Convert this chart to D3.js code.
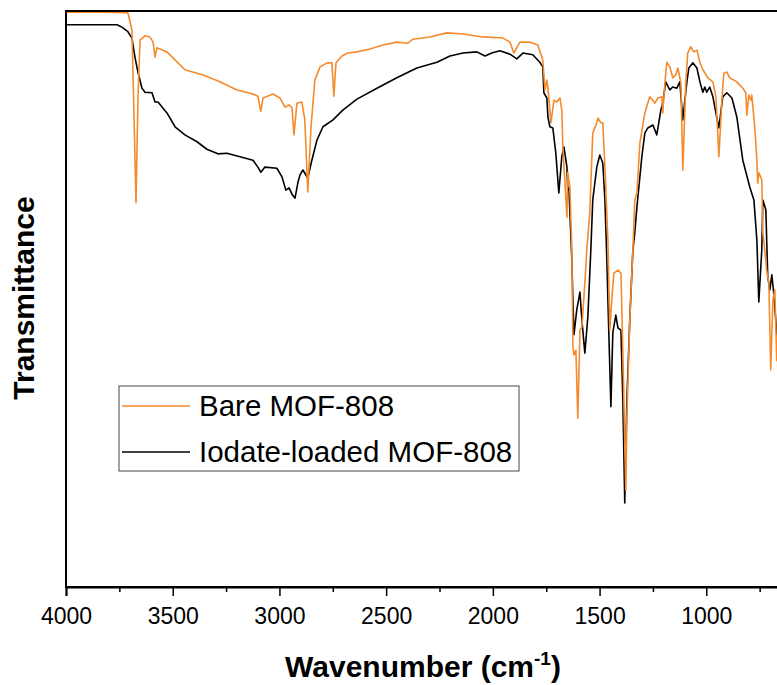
<!DOCTYPE html>
<html>
<head>
<meta charset="utf-8">
<script src="https://cdn.jsdelivr.net/npm/d3@7"></script>
<style>
  body { margin: 0; background: #fff; }
  svg { display: block; font-family: Arial, "Liberation Sans", sans-serif; }
</style>
</head>
<body>
<div id="chart"></div>
<script>
// wavenumber (cm-1) and transmittance (%, arbitrary)
const bareWn = [4000, 3841, 3710, 3691, 3681, 3672, 3663, 3653, 3630, 3607, 3592, 3583, 3574, 3527, 3443, 3358, 3279, 3199, 3124, 3101,
  3087, 3077, 3030, 2998, 2974, 2955, 2941, 2932, 2918, 2895, 2881, 2867, 2852, 2834, 2810, 2777, 2754, 2745, 2735, 2707,
  2679, 2637, 2576, 2515, 2450, 2398, 2375, 2295, 2215, 2140, 2047, 1953, 1920, 1902, 1873, 1827, 1789, 1766, 1756, 1747,
  1742, 1728, 1714, 1700, 1686, 1677, 1672, 1653, 1649, 1639, 1630, 1625, 1620, 1611, 1602, 1592, 1583, 1569, 1560, 1546,
  1532, 1513, 1508, 1494, 1485, 1475, 1461, 1452, 1443, 1433, 1414, 1400, 1391, 1377, 1372, 1358, 1344, 1335, 1325, 1311,
  1288, 1265, 1251, 1241, 1227, 1208, 1204, 1194, 1185, 1171, 1157, 1143, 1133, 1119, 1110, 1096, 1087, 1073, 1058, 1044,
  1030, 1016, 993, 969, 955, 941, 927, 918, 904, 890, 857, 829, 815, 810, 801, 791, 787, 773, 763, 759,
  754, 740, 735, 726, 717, 707, 698, 688, 679, 670, 656];
const bareT = [99.8, 99.8, 99.7, 96.7, 81.1, 66.7, 84.5, 95.0, 95.7, 95.5, 94.6, 92.0, 93.6, 92.9, 89.8, 88.9, 87.7, 86.3, 85.6, 85.2,
  82.6, 84.9, 85.6, 84.9, 83.3, 83.7, 83.2, 78.5, 84.0, 84.2, 81.1, 68.6, 79.9, 88.0, 90.3, 91.0, 91.0, 85.2, 91.0, 92.2,
  92.7, 92.9, 93.4, 94.1, 94.6, 94.4, 95.1, 95.5, 96.2, 96.0, 95.5, 95.3, 94.6, 92.7, 94.6, 94.6, 94.1, 91.5, 86.3, 88.0,
  86.6, 80.6, 84.5, 84.2, 84.9, 82.8, 76.4, 64.2, 72.0, 69.4, 58.5, 41.7, 40.3, 41.1, 29.3, 44.6, 45.1, 52.8, 58.5, 64.9,
  78.8, 80.6, 81.4, 80.6, 80.6, 72.9, 60.2, 44.6, 49.8, 54.5, 55.0, 54.5, 41.1, 16.8, 29.5, 46.9, 58.5, 67.2, 68.4, 77.1,
  82.3, 85.1, 84.5, 84.0, 84.9, 85.1, 82.3, 87.5, 91.1, 90.3, 88.4, 88.9, 90.1, 87.5, 72.4, 87.5, 92.7, 93.8, 92.9, 93.2,
  91.1, 89.8, 88.4, 87.7, 85.1, 74.7, 84.5, 89.2, 89.4, 88.4, 87.7, 86.6, 85.8, 81.9, 85.4, 84.5, 85.4, 79.9, 74.1, 70.1,
  71.9, 70.7, 61.5, 58.5, 55.0, 52.8, 37.7, 49.8, 51.6, 39.4, 38.5];

const iodateWn = [3995, 3841, 3761, 3738, 3710, 3691, 3677, 3663, 3644, 3630, 3597, 3583, 3569, 3527, 3489, 3443, 3386, 3340, 3288, 3246,
  3185, 3124, 3101, 3087, 3068, 3012, 2988, 2970, 2955, 2941, 2927, 2913, 2904, 2890, 2867, 2848, 2824, 2796, 2749, 2703,
  2637, 2543, 2450, 2356, 2262, 2201, 2140, 2075, 2037, 2005, 1967, 1920, 1888, 1859, 1813, 1780, 1766, 1761, 1747, 1742,
  1733, 1719, 1705, 1691, 1677, 1667, 1653, 1649, 1644, 1630, 1625, 1620, 1607, 1592, 1583, 1569, 1555, 1541, 1532, 1513,
  1499, 1485, 1475, 1466, 1461, 1447, 1438, 1424, 1414, 1400, 1391, 1382, 1372, 1358, 1344, 1335, 1325, 1302, 1288, 1274,
  1250, 1232, 1213, 1204, 1190, 1171, 1157, 1138, 1124, 1110, 1091, 1082, 1063, 1044, 1030, 1016, 1007, 998, 984, 969,
  955, 941, 923, 904, 880, 857, 829, 796, 777, 763, 754, 740, 735, 721, 717, 712, 702, 693, 684, 670, 656];
const iodateT = [97.6, 97.6, 97.6, 97.2, 96.4, 95.3, 92.0, 89.4, 86.6, 85.9, 85.8, 84.2, 84.2, 82.3, 79.9, 78.5, 77.3, 76.0, 75.2, 75.3,
  74.7, 74.1, 72.9, 72.0, 72.9, 72.7, 71.2, 68.9, 69.3, 68.2, 67.5, 70.3, 71.5, 72.4, 71.0, 74.1, 77.6, 79.9, 81.1, 82.8,
  84.7, 86.6, 88.4, 90.1, 91.1, 92.2, 92.7, 92.9, 92.2, 92.7, 93.1, 92.5, 91.7, 92.7, 92.4, 91.1, 90.3, 85.8, 84.9, 81.6,
  79.9, 79.7, 75.3, 68.4, 74.7, 76.4, 72.9, 68.9, 69.3, 56.8, 49.8, 43.8, 48.1, 51.2, 46.4, 40.6, 46.9, 58.5, 67.2, 72.9,
  75.0, 73.6, 67.2, 56.8, 49.8, 31.3, 44.1, 47.2, 45.0, 44.6, 32.5, 14.6, 32.5, 46.9, 58.5, 61.5, 66.0, 74.7, 78.8, 79.7,
  80.2, 78.5, 82.8, 84.0, 87.7, 86.3, 86.8, 86.6, 87.7, 81.1, 87.7, 90.1, 91.0, 90.1, 87.7, 85.9, 86.8, 85.9, 86.8, 85.1,
  82.3, 79.7, 85.1, 85.8, 84.9, 81.6, 74.1, 69.4, 67.2, 60.2, 49.5, 58.5, 67.2, 65.5, 60.2, 53.8, 51.6, 54.2, 51.0, 44.1, 42.0];

const xTicks = [4000, 3500, 3000, 2500, 2000, 1500, 1000];
const seriesNames = ['Bare MOF-808', 'Iodate-loaded MOF-808'];
const seriesColors = ['#f58a2d', '#000000'];

const width = 777, height = 685;
const margin = {top: 11, right: -4, bottom: 98, left: 66};
const innerW = width - margin.left - margin.right,
    innerH = height - margin.top - margin.bottom;

const svg = d3.select('#chart').append('svg')
    .attr('width', width)
    .attr('height', height);

svg.append('defs').append('clipPath').attr('id', 'plotClip')
    .append('rect').attr('width', innerW).attr('height', innerH);

const g = svg.append('g')
    .attr('transform', 'translate(' + margin.left + ',' + margin.top + ')');

const x = d3.scaleLinear().domain([4000, 650]).range([0, innerW]);
const y = d3.scaleLinear().domain([0, 100]).range([innerH, 0]);

const line = d3.line()
    .x(d => x(d[0]))
    .y(d => y(d[1]));

const series = [
  d3.zip(bareWn, bareT),
  d3.zip(iodateWn, iodateT)
];

// black drawn first so orange sits on top like the original
const plot = g.append('g').attr('clip-path', 'url(#plotClip)');
[1, 0].forEach(i => {
  plot.append('path')
      .datum(series[i])
      .attr('fill', 'none')
      .attr('stroke', seriesColors[i])
      .attr('stroke-width', 1.6)
      .attr('stroke-linejoin', 'round')
      .attr('d', line);
});

// frame
g.append('rect')
    .attr('width', innerW)
    .attr('height', innerH)
    .attr('fill', 'none')
    .attr('stroke', '#000')
    .attr('stroke-width', 2);

// minor ticks
g.append('g')
    .attr('transform', 'translate(0,' + innerH + ')')
    .call(d3.axisBottom(x).tickValues(d3.range(3750, 650, -500)).tickSize(5).tickFormat(''))
    .call(a => a.select('.domain').remove())
    .call(a => a.selectAll('line').attr('stroke-width', 1.5));

// major ticks
const xAxis = g.append('g')
    .attr('transform', 'translate(0,' + innerH + ')')
    .call(d3.axisBottom(x).tickValues(xTicks).tickSize(9).tickPadding(12).tickFormat(d3.format('d')));
xAxis.select('.domain').attr('stroke-width', 2);
xAxis.selectAll('line').attr('stroke-width', 1.5);
xAxis.selectAll('text')
    .attr('font-size', 23)
    .attr('font-family', 'Arial, "Liberation Sans", sans-serif')
    .attr('fill', '#000');

// axis titles
const xTitle = svg.append('text')
    .attr('x', 423)
    .attr('y', 677)
    .attr('text-anchor', 'middle')
    .attr('font-size', 30)
    .attr('font-weight', 'bold');
xTitle.append('tspan').text('Wavenumber (cm');
xTitle.append('tspan').attr('font-size', 19).attr('dy', -12).text('-1');
xTitle.append('tspan').attr('dy', 12).text(')');

svg.append('text')
    .attr('transform', 'translate(34,298) rotate(-90)')
    .attr('text-anchor', 'middle')
    .attr('font-size', 30)
    .attr('font-weight', 'bold')
    .text('Transmittance');

// legend
const legend = svg.append('g').attr('transform', 'translate(119,386)');
legend.append('rect')
    .attr('width', 400)
    .attr('height', 85)
    .attr('fill', '#fff')
    .attr('stroke', '#444')
    .attr('stroke-width', 1);
seriesNames.forEach((name, i) => {
  const row = legend.append('g').attr('transform', 'translate(0,' + (20 + i * 46) + ')');
  row.append('line')
      .attr('x1', 3).attr('x2', 71)
      .attr('stroke', seriesColors[i])
      .attr('stroke-width', 1.5);
  row.append('text')
      .attr('x', 80)
      .attr('dy', '0.35em')
      .attr('font-size', 29.5)
      .text(name);
});
</script>
</body>
</html>
